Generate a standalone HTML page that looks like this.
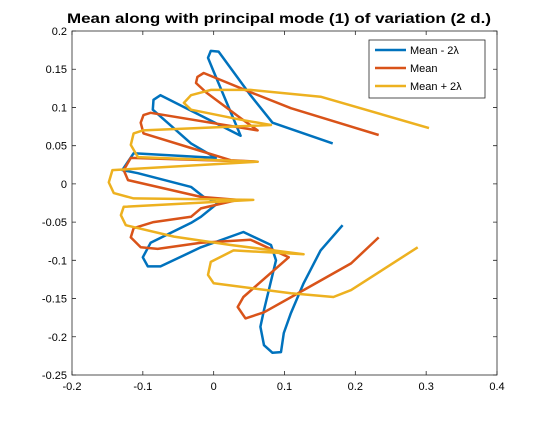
<!DOCTYPE html>
<html><head><meta charset="utf-8"><style>
body{margin:0;background:#fff;font-family:"Liberation Sans",sans-serif}
svg text{font-family:"Liberation Sans",sans-serif}
</style></head><body>
<svg id="c" width="550" height="420" xmlns="http://www.w3.org/2000/svg">
<rect width="550" height="420" fill="#fff"/>
<text x="279" y="23" text-anchor="middle" font-size="14" font-weight="bold" textLength="424" lengthAdjust="spacingAndGlyphs">Mean along with principal mode (1) of variation (2 d.)</text>
<g id="plot"></g>
<g id="axes"></g>
<g>
<rect x="369" y="40" width="116" height="58" fill="#fff" stroke="#262626" stroke-width="0.8"/>
<line x1="375" y1="50" x2="406" y2="50" stroke="#0072BD" stroke-width="2.5"/>
<text x="410" y="54" font-size="11">Mean - 2λ</text>
<line x1="375" y1="68" x2="406" y2="68" stroke="#D95319" stroke-width="2.5"/>
<text x="410" y="72" font-size="11">Mean</text>
<line x1="375" y1="86" x2="406" y2="86" stroke="#EDB120" stroke-width="2.5"/>
<text x="410" y="90" font-size="11">Mean + 2λ</text>
</g>
</svg>
<script>
const xTicks=[-0.2,-0.1,0,0.1,0.2,0.3,0.4];
const xTickLabels=["-0.2","-0.1","0","0.1","0.2","0.3","0.4"];
const yTicks=[0.2,0.15,0.1,0.05,0,-0.05,-0.1,-0.15,-0.2,-0.25];
const yTickLabels=["0.2","0.15","0.1","0.05","0","-0.05","-0.1","-0.15","-0.2","-0.25"];
const minusX=[.168,.083,.052,.007,-.004,-.008,-.001,.038,-.075,-.085,-.086,-.032,.003,-.113,-.129,-.107,-.032,-.014,.006,-.018,-.032,-.089,-.100,-.093,-.075,-.018,.042,.081,.088,.071,.066,.071,.083,.095,.099,.109,.127,.151,.182];
const minusY=[.053,.080,.116,.173,.174,.165,.149,.063,.116,.110,.097,.053,.034,.040,.018,.014,-.004,-.017,-.025,-.043,-.051,-.077,-.096,-.108,-.108,-.083,-.063,-.080,-.100,-.165,-.187,-.211,-.221,-.220,-.195,-.169,-.130,-.087,-.054];
const meanX=[.233,.109,.052,-.014,-.023,-.025,-.011,.038,.062,-.089,-.099,-.103,-.099,-.032,.024,.062,-.117,-.127,-.121,-.018,.034,-.018,-.032,-.085,-.113,-.117,-.103,-.079,-.018,.052,.106,.042,.034,.045,.071,.127,.194,.233];
const meanY=[.064,.099,.120,.145,.140,.132,.120,.086,.070,.093,.090,.080,.066,.047,.031,.029,.034,.018,.005,-.017,-.021,-.032,-.043,-.050,-.058,-.070,-.083,-.085,-.077,-.073,-.096,-.148,-.161,-.176,-.168,-.139,-.104,-.070];
const plusX=[.304,.151,.052,-.004,-.032,-.042,-.032,.038,.081,-.100,-.113,-.117,-.107,.062,-.143,-.148,-.141,-.113,.056,-.127,-.131,-.124,-.056,.024,.127,.028,-.004,-.008,.000,.109,.169,.194,.288];
const plusY=[.073,.114,.123,.123,.116,.106,.097,.084,.077,.070,.066,.051,.035,.029,.018,.002,-.012,-.019,-.021,-.030,-.041,-.054,-.069,-.080,-.092,-.087,-.102,-.119,-.130,-.143,-.148,-.139,-.083];
const L=72,R=497,T=31,B=375,xmin=-0.2,xmax=0.4,ymin=-0.25,ymax=0.2;
const sx=v=>L+(v-xmin)/(xmax-xmin)*(R-L);
const sy=v=>B-(v-ymin)/(ymax-ymin)*(B-T);
const NS="http://www.w3.org/2000/svg";
const plot=document.getElementById('plot'),axes=document.getElementById('axes');
function line(xs,ys,col,name){
  const p=document.createElementNS(NS,'polyline');
  p.setAttribute('points',xs.map((x,i)=>sx(x).toFixed(1)+','+sy(ys[i]).toFixed(1)).join(' '));
  p.setAttribute('fill','none');p.setAttribute('stroke',col);p.setAttribute('stroke-width','2.5');
  p.setAttribute('stroke-linejoin','round');
  
  
  plot.appendChild(p);
}
line(minusX,minusY,'#0072BD','series-mean-minus-2-lambda');
line(meanX,meanY,'#D95319','series-mean');
line(plusX,plusY,'#EDB120','series-mean-plus-2-lambda');
const box=document.createElementNS(NS,'rect');
box.setAttribute('x',L);box.setAttribute('y',T);box.setAttribute('width',R-L);box.setAttribute('height',B-T);
box.setAttribute('fill','none');box.setAttribute('stroke','#262626');box.setAttribute('stroke-width','0.8');


axes.appendChild(box);
xTicks.forEach((v,i)=>{
  const x=sx(v);
  const t=document.createElementNS(NS,'path');
  t.setAttribute('d',`M${x},${B}v-4M${x},${T}v4`);t.setAttribute('stroke','#262626');t.setAttribute('stroke-width','0.8');
  
  
  axes.appendChild(t);
  const s=document.createElementNS(NS,'text');
  s.setAttribute('x',x);s.setAttribute('y',B+15);s.setAttribute('text-anchor','middle');s.setAttribute('font-size','11');
  s.textContent=xTickLabels[i];
  
  
  axes.appendChild(s);
});
yTicks.forEach((v,i)=>{
  const y=sy(v);
  const t=document.createElementNS(NS,'path');
  t.setAttribute('d',`M${L},${y}h4M${R},${y}h-4`);t.setAttribute('stroke','#262626');t.setAttribute('stroke-width','0.8');
  
  
  axes.appendChild(t);
  const s=document.createElementNS(NS,'text');
  s.setAttribute('x',L-5);s.setAttribute('y',y+4);s.setAttribute('text-anchor','end');s.setAttribute('font-size','11');
  s.textContent=yTickLabels[i];
  
  
  axes.appendChild(s);
});
</script>
</body></html>
